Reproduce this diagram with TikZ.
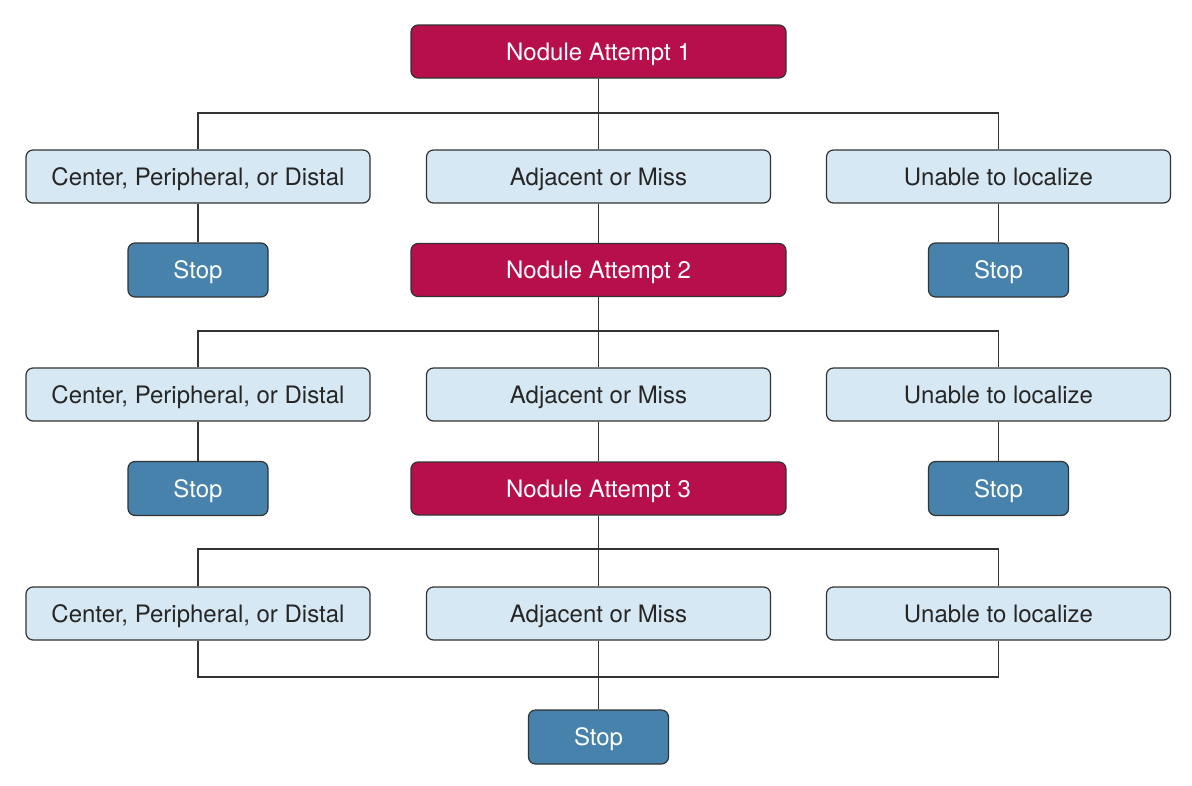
\documentclass[tikz,border=0pt]{standalone}
\usepackage{fontspec}
\setmainfont{TeX Gyre Heros}
\definecolor{crim}{HTML}{B70F4B}
\definecolor{lblue}{HTML}{D6E8F3}
\definecolor{sblue}{HTML}{4682AB}
\definecolor{edge}{HTML}{333333}
\begin{document}
\begin{tikzpicture}[x=1pt,y=-1pt,
  base/.style={draw=edge,line width=1.2pt,rounded corners=7pt,font=\fontsize{24}{28}\selectfont,inner sep=0pt,text height=17pt,text depth=0pt},
  attempt/.style={base,fill=crim,text=white,minimum width=375pt,minimum height=53pt},
  result/.style={base,fill=lblue,text=black!85,minimum width=344pt,minimum height=53pt},
  stopbox/.style={base,fill=sblue,text=white,minimum width=140pt,minimum height=54pt},
  link/.style={draw=edge,line width=1.2pt}]
\useasboundingbox[fill=white] (0,0) rectangle (1192,785);
% row positions
\node[attempt] (a1) at (598.5,51.5) {Nodule Attempt 1};
\node[result] (l1) at (198,176.5) {Center, Peripheral, or Distal};
\node[result] (m1) at (598.5,176.5) {Adjacent or Miss};
\node[result] (r1) at (998.5,176.5) {Unable to localize};
\node[stopbox] (sl1) at (198,270) {Stop};
\node[attempt] (a2) at (598.5,270) {Nodule Attempt 2};
\node[stopbox] (sr1) at (998.5,270) {Stop};
\node[result] (l2) at (198,394.5) {Center, Peripheral, or Distal};
\node[result] (m2) at (598.5,394.5) {Adjacent or Miss};
\node[result] (r2) at (998.5,394.5) {Unable to localize};
\node[stopbox] (sl2) at (198,488.5) {Stop};
\node[attempt] (a3) at (598.5,488.5) {Nodule Attempt 3};
\node[stopbox] (sr2) at (998.5,488.5) {Stop};
\node[result] (l3) at (198,613.5) {Center, Peripheral, or Distal};
\node[result] (m3) at (598.5,613.5) {Adjacent or Miss};
\node[result] (r3) at (998.5,613.5) {Unable to localize};
\node[stopbox] (sf) at (598.5,737) {Stop};
% connectors
\coordinate (j1) at (598.5,113);
\coordinate (j2) at (598.5,331);
\coordinate (j3) at (598.5,549);
\coordinate (j4) at (598.5,677);
\draw[link] (a1.south) -- (m1.north);
\draw[link] (l1.north) |- (j1) -| (r1.north);
\draw[link] (l1.south) -- (sl1.north);
\draw[link] (r1.south) -- (sr1.north);
\draw[link] (m1.south) -- (a2.north);
\draw[link] (a2.south) -- (m2.north);
\draw[link] (l2.north) |- (j2) -| (r2.north);
\draw[link] (l2.south) -- (sl2.north);
\draw[link] (r2.south) -- (sr2.north);
\draw[link] (m2.south) -- (a3.north);
\draw[link] (a3.south) -- (m3.north);
\draw[link] (l3.north) |- (j3) -| (r3.north);
\draw[link] (l3.south) |- (j4) -| (r3.south);
\draw[link] (m3.south) -- (sf.north);
\end{tikzpicture}
\end{document}
